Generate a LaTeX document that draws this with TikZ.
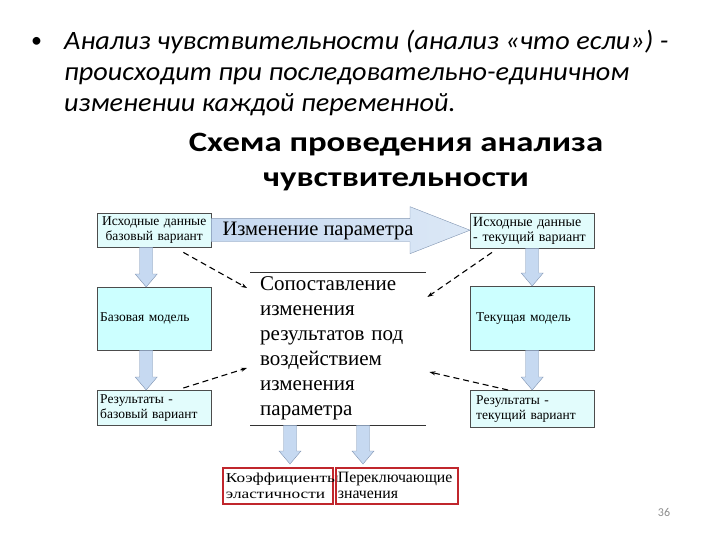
\documentclass[tikz,border=0pt]{standalone}
\usepackage{fontspec}
\setmainfont{Liberation Serif}
\newfontfamily\slidefont{Carlito}
\newfontfamily\leadfont[FakeStretch=1.065]{Carlito}
\newfontfamily\titlefont[FakeStretch=1.24]{Carlito}
\newfontfamily\wideserif[FakeStretch=1.27]{Liberation Serif}
\usetikzlibrary{calc, positioning, arrows.meta}

\definecolor{boxcyan}{HTML}{E2FCFC}
\definecolor{modelcyan}{HTML}{CCFFFF}
\definecolor{arrowfill}{HTML}{C6D9F1}
\definecolor{arrowlight}{HTML}{DCE8F6}
\definecolor{arrowline}{HTML}{7F93B0}
\definecolor{framered}{HTML}{C0262C}
\definecolor{pagegray}{HTML}{8C8C8C}

% block arrow pointing down: x from #1, tip at the y of #2
\newcommand{\vblock}[2]{%
  \path[draw=arrowline, fill=arrowfill] let \p1=#1, \p2=#2 in
    (\x1-6.5pt,\y1) -- (\x1+6.5pt,\y1) -- (\x1+6.5pt,\y2+13pt) -- (\x1+11pt,\y2+13pt)
    -- (\x1,\y2) -- (\x1-11pt,\y2+13pt) -- (\x1-6.5pt,\y2+13pt) -- cycle;}

% wide block arrow pointing right: from #1 to #2
\newcommand{\hblock}[2]{%
  \path[draw=arrowline, left color=arrowfill, right color=arrowlight] let \p1=#1, \p2=#2 in
    (\x1,\y1+11.5pt) -- (\x2-60pt,\y1+11.5pt) -- (\x2-60pt,\y1+23.5pt) -- (\x2,\y1)
    -- (\x2-60pt,\y1-23.5pt) -- (\x2-60pt,\y1-11.5pt) -- (\x1,\y1-11.5pt) -- cycle;}

\begin{document}
\begin{tikzpicture}[x=1pt, y=-1pt,
        box/.style={draw=black!70, fill=boxcyan, rectangle, anchor=north west, align=left,
            font=\fontsize{13.5}{15}\selectfont, inner xsep=3pt, inner ysep=0pt},
        result/.style={draw=framered, line width=1.8pt, rectangle, anchor=north west, align=left,
            inner xsep=3pt, inner ysep=0pt},
        dasharrow/.style={-{Stealth[length=6pt, width=4pt]}, dashed, dash pattern=on 6pt off 4pt, line width=1.1pt}
    ]
        \useasboundingbox (0,0) rectangle (720,540);

        % Slide text
        \node[anchor=west, font=\slidefont\fontsize{22}{22}\selectfont, inner sep=0pt] (dot) at (31,42) {•};
        \node[anchor=north west, align=left, inner sep=0pt,
            font=\leadfont\itshape\fontsize{26.5}{31}\selectfont] (lead) at (64,30)
            {Анализ чувствительности (анализ «что если») -\\
             происходит при последовательно-единичном\\
             изменении каждой переменной.};
        \node[align=center, inner sep=0pt,
            font=\titlefont\bfseries\fontsize{28}{35}\selectfont] (title) at (396,162)
            {Схема проведения анализа\\ чувствительности};

        % Left column
        \node[box, align=center, minimum width=114, minimum height=34, text width=108] (b1) at (97,213)
            {Исходные данные\\ базовый вариант};
        \node[box, fill=modelcyan, minimum width=114, minimum height=63, text width=108] (b3) at (97,287)
            {Базовая модель};
        \node[box, minimum width=114, minimum height=35, text width=108] (b5) at (97,390)
            {Результаты -\\ базовый вариант};

        % Right column
        \node[box, minimum width=124, minimum height=35, text width=118, inner xsep=3pt,
            font=\fontsize{14}{15}\selectfont] (b2) at (470,213)
            {Исходные данные\\ - текущий вариант};
        \node[box, fill=modelcyan, minimum width=124, minimum height=64, text width=112, inner xsep=6pt] (b4) at (470,286)
            {Текущая модель};
        \node[box, minimum width=124, minimum height=37, text width=112, inner xsep=6pt] (b6) at (470,390)
            {Результаты -\\ текущий вариант};

        % Comparison block
        \node[anchor=north west, minimum width=172, minimum height=153, text width=156, inner xsep=10pt,
            inner ysep=0pt, align=left, font=\fontsize{21}{25}\selectfont] (cmp) at (250,272)
            {Сопоставление\\ изменения\\ результатов под\\ воздействием\\ изменения\\ параметра};
        \draw[black!80] (cmp.north west) -- (cmp.north east);
        \draw[black!80] (cmp.south west) -- (cmp.south east);

        % Outputs
        \node[result, minimum width=110, minimum height=36, text width=104,
            font=\wideserif\fontsize{13.6}{16}\selectfont] (k1) at (222,467)
            {Коэффициенты\\ эластичности};
        \node[result, minimum width=122, minimum height=36, text width=118, inner xsep=2pt,
            font=\fontsize{15.8}{16}\selectfont] (k2) at (335,467)
            {Переключающие\\ значения};

        % Block arrows
        \hblock{(b1.east)}{(b2.west)}
        \node[anchor=west, inner sep=0pt, font=\fontsize{20.5}{22}\selectfont] (param) at ($(b1.east)+(11,1)$)
            {Изменение параметра};
        \vblock{($(b1.south)+(-8,0)$)}{(b3.north)}
        \vblock{($(b3.south)+(-8,0)$)}{(b5.north)}
        \vblock{(b2.south)}{(b4.north)}
        \vblock{(b4.south)}{(b6.north)}
        \vblock{($(cmp.south west)+(40,0)$)}{($(k1.north)+(0,-3)$)}
        \vblock{($(cmp.south west)+(113,0)$)}{($(k2.north)+(0,-3)$)}

        % Dashed links
        \draw[dasharrow] ($(b1.south east)+(-28,5)$) -- ($(cmp.north west)+(-3,16)$);
        \draw[dasharrow] ($(b2.south west)+(22,4)$) -- ($(cmp.north east)+(1,25)$);
        \draw[dasharrow] ($(b5.north east)+(-28,-2)$) -- ($(cmp.north west)+(-3,96)$);
        \draw[dasharrow] ($(b6.north west)+(38,0)$) -- ($(cmp.north east)+(3,100)$);

        % Page number
        \node[font=\slidefont\fontsize{12}{12}\selectfont, text=pagegray] (page) at (664,512) {36};
    \end{tikzpicture}
\end{document}
